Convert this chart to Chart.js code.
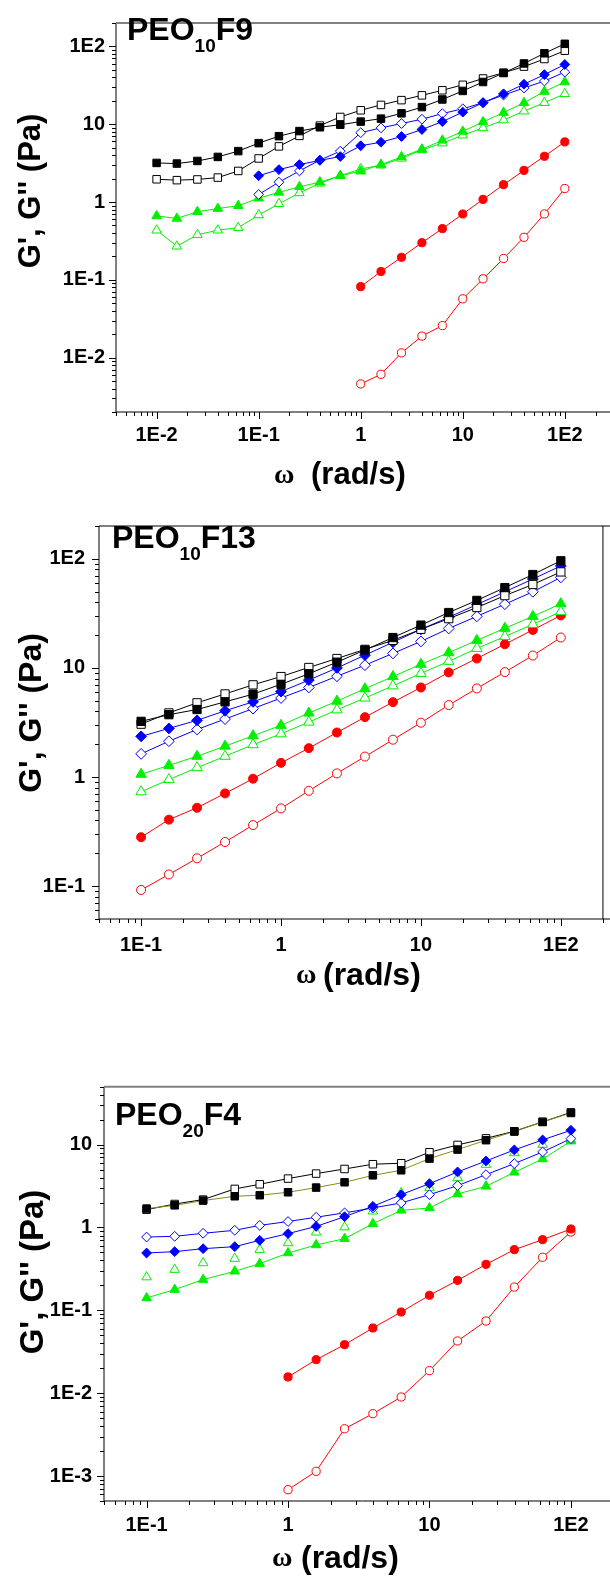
<!DOCTYPE html>
<html>
<head>
<meta charset="utf-8">
<script src="https://cdn.jsdelivr.net/npm/chart.js@4.4.1/dist/chart.umd.min.js"></script>
<style>
  html, body { margin: 0; padding: 0; background: #fff; width: 610px; height: 1580px; overflow: hidden; }
  canvas { position: absolute; left: 0; }
  .txt { position: absolute; font-family: "Liberation Sans", Arial, sans-serif; font-weight: bold; color: #000; white-space: pre; }
  .panel { font-size: 32px; line-height: 32px; }
  .panel sub { font-size: 19px; vertical-align: -12px; line-height: 0; }
  .ytitle { width: 240px; text-align: center; line-height: 32px; transform: rotate(-90deg); }
  .omega { font-family: "Liberation Serif", "Times New Roman", serif; font-size: 28px; line-height: 30px; }
  .rads { line-height: 30px; }
</style>
</head>
<body>
<canvas id="c1" width="620" height="500" style="top:0px"></canvas>
<canvas id="c2" width="610" height="500" style="top:500px"></canvas>
<canvas id="c3" width="620" height="520" style="top:1060px"></canvas>

<div class="txt panel" style="left:127px; top:13px">PEO<sub>10</sub>F9</div>
<div class="txt panel" style="left:112px; top:521px">PEO<sub>10</sub>F13</div>
<div class="txt panel" style="left:115px; top:1098px">PEO<sub>20</sub>F4</div>

<div class="txt ytitle" style="left:-90px; top:175px; font-size:31px">G', G'' (Pa)</div>
<div class="txt ytitle" style="left:-90px; top:697px; font-size:32px">G', G'' (Pa)</div>
<div class="txt ytitle" style="left:-88px; top:1256px; font-size:33px">G', G'' (Pa)</div>

<div class="txt omega" style="left:274px; top:459px">ω</div>
<div class="txt rads" style="left:311px; top:459px; font-size:31px">(rad/s)</div>
<div class="txt omega" style="left:296px; top:959px">ω</div>
<div class="txt rads" style="left:323px; top:959px; font-size:32px">(rad/s)</div>
<div class="txt omega" style="left:272px; top:1542px">ω</div>
<div class="txt rads" style="left:301px; top:1542px; font-size:32px">(rad/s)</div>

<script>
// frequency grids (rad/s)
const omegaF9 = [0.01, 0.0158, 0.0251, 0.0398, 0.0631, 0.1, 0.158, 0.251, 0.398, 0.631,
  1, 1.58, 2.51, 3.98, 6.31, 10, 15.8, 25.1, 39.8, 63.1, 100];
const omegaF13 = [0.1, 0.158, 0.251, 0.398, 0.631, 1, 1.58, 2.51, 3.98, 6.31,
  10, 15.8, 25.1, 39.8, 63.1, 100];
const omegaF4 = [0.1, 0.158, 0.251, 0.42, 0.631, 1, 1.58, 2.51, 3.98, 6.31,
  10, 15.8, 25.1, 39.8, 63.1, 100];

// PEO10F9
const f9BlackFilled = [3.18, 3.12, 3.37, 3.80, 4.51, 5.71, 7.02, 8.16, 9.14, 9.86, 10.8, 11.8, 13.8, 16.6, 20.8, 26.8, 34.9, 45.5, 60.4, 81.6, 108];
const f9BlackOpen = [1.96, 1.91, 1.95, 2.06, 2.51, 3.63, 5.19, 7.08, 9.6, 12.4, 15.1, 17.7, 20.4, 23.5, 27.3, 32.1, 38.7, 45.9, 55.0, 68.9, 88.1];
const f9BlueFilled = [2.18, 2.61, 3.03, 3.43, 3.84, 5.29, 5.87, 6.95, 8.55, 10.8, 14.3, 18.9, 24.6, 32.7, 43.4, 58.6];
const f9BlueOpen = [1.25, 1.80, 2.51, 3.46, 4.51, 7.78, 8.97, 10.2, 11.6, 13.7, 15.8, 18.9, 23.7, 29.2, 35.9, 46.8];
const f9GreenFilled = [0.663, 0.615, 0.750, 0.824, 0.897, 1.12, 1.33, 1.57, 1.80, 2.18, 2.49, 3.03, 3.80, 4.77, 6.21, 8.09, 10.7, 14.1, 18.9, 26.3, 34.9];
const f9GreenOpen = [0.434, 0.270, 0.380, 0.434, 0.468, 0.682, 0.949, 1.31, 1.74, 2.18, 2.66, 2.97, 3.64, 4.68, 5.71, 7.22, 8.97, 11.3, 14.7, 18.9, 24.6];
const f9RedFilled = [0.0817, 0.128, 0.195, 0.300, 0.455, 0.702, 1.08, 1.67, 2.55, 3.87, 5.93];
const f9RedOpen = [0.00459, 0.0061, 0.0115, 0.0189, 0.0258, 0.057, 0.103, 0.188, 0.352, 0.702, 1.49];

// PEO10F13
const f13BlackFilled = [3.24, 3.73, 4.16, 4.89, 5.75, 7.08, 8.85, 11.3, 14.6, 19.0, 24.7, 32.2, 41.6, 54.5, 71.8, 96.0];
const f13BlackOpen = [3.05, 3.87, 4.79, 5.78, 7.0, 8.34, 10.1, 12.2, 14.8, 17.9, 22.6, 28.3, 35.8, 46.0, 58.2, 75.9];
const f13BlueFilled = [2.36, 2.79, 3.31, 4.05, 4.89, 6.07, 7.74, 10.0, 13.1, 17.2, 22.6, 29.1, 38.1, 49.9, 65.3, 86.1];
const f13BlueOpen = [1.63, 2.13, 2.73, 3.40, 4.24, 5.30, 6.62, 8.39, 10.6, 13.6, 17.5, 23.0, 29.7, 38.4, 49.9, 67.6];
const f13GreenFilled = [1.06, 1.28, 1.55, 1.92, 2.39, 2.98, 3.86, 4.96, 6.45, 8.34, 10.8, 13.8, 17.9, 23.1, 29.7, 38.8];
const f13GreenOpen = [0.733, 0.948, 1.22, 1.55, 1.98, 2.49, 3.19, 4.13, 5.30, 6.85, 8.92, 11.5, 15.1, 19.4, 25.1, 32.8];
const f13RedFilled = [0.281, 0.407, 0.523, 0.708, 0.966, 1.35, 1.84, 2.56, 3.54, 4.86, 6.62, 9.10, 12.2, 16.5, 22.3, 30.3];
const f13RedOpen = [0.0923, 0.128, 0.180, 0.254, 0.363, 0.516, 0.748, 1.08, 1.54, 2.20, 3.15, 4.57, 6.49, 9.16, 13.0, 19.0];

// PEO20F4
const f4BlackFilled = [1.69, 1.85, 2.11, 2.38, 2.45, 2.66, 3.03, 3.51, 4.26, 4.90, 6.78, 8.71, 11.3, 14.4, 18.8, 24.1];
const f4BlackOpen = [1.64, 1.92, 2.17, 2.92, 3.32, 3.89, 4.47, 5.08, 5.80, 5.96, 8.08, 9.91, 11.9, 14.5, 18.8, 24.5];
const f4BlueFilled = [0.492, 0.511, 0.555, 0.587, 0.700, 0.843, 1.03, 1.35, 1.80, 2.49, 3.38, 4.68, 6.35, 8.63, 11.4, 14.9];
const f4BlueOpen = [0.767, 0.782, 0.851, 0.925, 1.06, 1.18, 1.33, 1.50, 1.72, 1.98, 2.49, 3.20, 4.34, 5.90, 8.16, 11.8];
const f4GreenFilled = [0.141, 0.178, 0.235, 0.296, 0.366, 0.492, 0.615, 0.733, 1.11, 1.61, 1.72, 2.54, 3.14, 4.63, 6.71, 11.0];
const f4GreenOpen = [0.252, 0.310, 0.373, 0.421, 0.540, 0.650, 0.875, 1.01, 1.57, 2.61, 3.00, 3.96, 5.74, 7.93, 10.0, 11.5];
const f4RedFilled = [0.0157, 0.0254, 0.0385, 0.0612, 0.0955, 0.152, 0.230, 0.359, 0.540, 0.713, 0.959];
const f4RedOpen = [0.000684, 0.00114, 0.00372, 0.00566, 0.0090, 0.0187, 0.0427, 0.0743, 0.191, 0.437, 0.883];

const BLACK = "#000000";
const BLUE = "#0000ff";
const GREEN = "#00f000";
const RED = "#ff0000";
const OLIVE = "#8c8a10";

const RADIUS = { rect: 5.3, rectRot: 4.9, triangle: 5.5, circle: 4.1 };

const series = (omega, values, color, style, filled, opts = {}) => {
  const r = RADIUS[style] * (opts.scale || 1);
  return {
    data: omega.slice(omega.length - values.length).map((x, i) => ({ x, y: values[i] })),
    borderColor: opts.lineColor || color,
    borderWidth: 1,
    showLine: opts.showLine !== false,
    pointStyle: style,
    pointRadius: r,
    pointHoverRadius: r,
    pointBorderWidth: 1,
    pointBorderColor: color,
    pointBackgroundColor: filled ? color : "#ffffff",
    tension: 0,
    fill: false,
  };
};

const expLabel = (v) => {
  const e = Math.round(Math.log10(v));
  if (e === 0) return "1";
  if (e === 1) return "10";
  return "1E" + e;
};

const decades = (min, max) => {
  const out = [];
  for (let e = Math.floor(Math.log10(min)); e <= Math.ceil(Math.log10(max)); e++) {
    const v = Math.pow(10, e);
    if (v >= min * 0.999 && v <= max * 1.001) out.push({ value: v });
  }
  return out;
};

// axis box + log ticks (major at decades, minor at 2..9)
const framePlugin = {
  id: "frame",
  beforeDatasetsDraw(chart, args, opts) {
    const { ctx, chartArea: a, scales } = chart;
    ctx.save();
    ctx.lineWidth = 1;
    ctx.strokeStyle = BLACK;
    ctx.beginPath();
    ctx.moveTo(a.left, a.top);
    ctx.lineTo(a.left, a.bottom);
    ctx.lineTo(a.right + 10, a.bottom);
    if (opts.rightBorder) {
      ctx.moveTo(a.right, a.bottom);
      ctx.lineTo(a.right, a.top);
    }
    ctx.stroke();

    ctx.strokeStyle = opts.topColor;
    ctx.lineWidth = opts.topWidth;
    ctx.beginPath();
    ctx.moveTo(a.left, a.top);
    ctx.lineTo(a.right + 10, a.top);
    ctx.stroke();

    ctx.strokeStyle = BLACK;
    ctx.lineWidth = 1;
    ctx.beginPath();
    ["x", "y"].forEach((id) => {
      const s = scales[id];
      const lo = Math.floor(Math.log10(s.min));
      const hi = Math.ceil(Math.log10(s.max));
      for (let e = lo; e <= hi; e++) {
        for (let k = 1; k <= 9; k++) {
          const v = k * Math.pow(10, e);
          if (v < s.min || v > s.max) continue;
          const p = Math.round(s.getPixelForValue(v)) + 0.5;
          const len = k === 1 ? 7 : 4;
          if (id === "x") {
            ctx.moveTo(p, a.bottom);
            ctx.lineTo(p, a.bottom + len);
          } else {
            ctx.moveTo(a.left, p);
            ctx.lineTo(a.left - len, p);
          }
        }
      }
    });
    ctx.stroke();
    ctx.restore();
  },
};

const tickFont = { family: "'Liberation Sans', Arial, sans-serif", size: 20, weight: "bold" };

const makeChart = (id, cfg) => {
  const canvas = document.getElementById(id);
  const H = canvas.height;
  new Chart(canvas, {
    type: "scatter",
    data: { datasets: cfg.datasets },
    plugins: [framePlugin],
    options: {
      responsive: false,
      animation: false,
      devicePixelRatio: 1,
      layout: { padding: { top: cfg.top, right: canvas.width - cfg.right, left: 0, bottom: 0 } },
      plugins: {
        legend: { display: false },
        tooltip: { enabled: false },
        frame: { topColor: cfg.topColor, topWidth: cfg.topWidth, rightBorder: cfg.rightBorder },
      },
      scales: {
        x: {
          type: "logarithmic",
          min: cfg.xMin,
          max: cfg.xMax,
          grid: { display: false, drawTicks: false, tickLength: 0 },
          border: { display: false },
          afterBuildTicks: (s) => { s.ticks = decades(cfg.xMin, cfg.xMax); },
          afterFit: (s) => { s.height = H - cfg.bottom; },
          ticks: {
            autoSkip: false,
            maxRotation: 0,
            padding: cfg.xPad,
            color: BLACK,
            font: tickFont,
            callback: (v) => expLabel(v),
          },
        },
        y: {
          type: "logarithmic",
          min: cfg.yMin,
          max: cfg.yMax,
          grid: { display: false, drawTicks: false, tickLength: 0 },
          border: { display: false },
          afterBuildTicks: (s) => { s.ticks = decades(cfg.yMin, cfg.yMax); },
          afterFit: (s) => { s.width = cfg.left; },
          ticks: {
            autoSkip: false,
            padding: cfg.yPad,
            color: BLACK,
            font: tickFont,
            callback: (v) => expLabel(v),
          },
        },
      },
    },
  });
};

makeChart("c1", {
  left: 116, right: 617, top: 6, bottom: 412,
  xMin: 0.004, xMax: 300, yMin: 0.002, yMax: 200,
  xPad: 11, yPad: 11, topColor: "#808080", topWidth: 2, rightBorder: false,
  datasets: [
    series(omegaF9, f9BlackFilled, BLACK, "rect", true),
    series(omegaF9, f9BlackOpen, BLACK, "rect", false),
    series(omegaF9, f9BlueFilled, BLUE, "rectRot", true),
    series(omegaF9, f9BlueOpen, BLUE, "rectRot", false),
    series(omegaF9, f9GreenFilled, GREEN, "triangle", true),
    series(omegaF9, f9GreenOpen, GREEN, "triangle", false),
    series(omegaF9, f9RedFilled, RED, "circle", true),
    series(omegaF9, f9RedOpen, RED, "circle", false),
  ],
});

const big = { scale: 1.1 };
makeChart("c2", {
  left: 99, right: 603, top: 10.5, bottom: 419,
  xMin: 0.05, xMax: 200, yMin: 0.05, yMax: 200,
  xPad: 14, yPad: 14, topColor: BLACK, topWidth: 1, rightBorder: true,
  datasets: [
    series(omegaF13, f13BlackFilled, BLACK, "rect", true, big),
    series(omegaF13, f13BlackOpen, BLACK, "rect", false, big),
    series(omegaF13, f13BlueFilled, BLUE, "rectRot", true, big),
    series(omegaF13, f13BlueOpen, BLUE, "rectRot", false, big),
    series(omegaF13, f13GreenFilled, GREEN, "triangle", true, big),
    series(omegaF13, f13GreenOpen, GREEN, "triangle", false, big),
    series(omegaF13, f13RedFilled, RED, "circle", true, big),
    series(omegaF13, f13RedOpen, RED, "circle", false, big),
  ],
});

makeChart("c3", {
  left: 104, right: 615.5, top: 26.7, bottom: 441,
  xMin: 0.05, xMax: 200, yMin: 0.0005, yMax: 50,
  xPad: 12, yPad: 12, topColor: "#808080", topWidth: 2, rightBorder: false,
  datasets: [
    series(omegaF4, f4BlackFilled, BLACK, "rect", true, { lineColor: OLIVE }),
    series(omegaF4, f4BlackOpen, BLACK, "rect", false),
    series(omegaF4, f4BlueFilled, BLUE, "rectRot", true),
    series(omegaF4, f4BlueOpen, BLUE, "rectRot", false),
    series(omegaF4, f4GreenFilled, GREEN, "triangle", true),
    series(omegaF4, f4GreenOpen, GREEN, "triangle", false, { showLine: false }),
    series(omegaF4, f4RedFilled, RED, "circle", true),
    series(omegaF4, f4RedOpen, RED, "circle", false),
  ],
});
</script>
</body>
</html>
